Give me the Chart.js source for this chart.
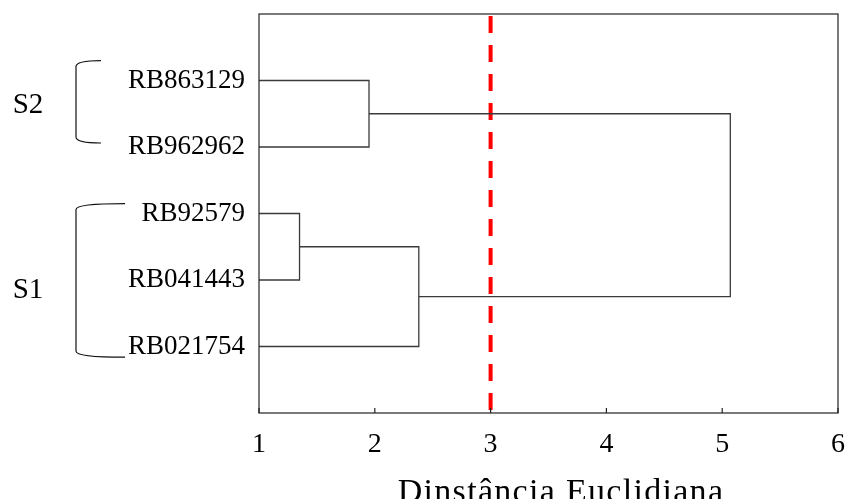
<!DOCTYPE html>
<html>
<head>
<meta charset="utf-8">
<script src="https://cdn.jsdelivr.net/npm/chart.js@4"></script>
<style>
  html, body { margin: 0; padding: 0; background: #fff; }
  #wrap { width: 848px; height: 499px; }
</style>
</head>
<body>
<div id="wrap"><canvas id="dendro"></canvas></div>
<script>
// leaves, top to bottom
const leaves = ['RB863129', 'RB962962', 'RB92579', 'RB041443', 'RB021754'];
// merges: node ids 0-4 are leaves, 5+ are the clusters built in order
const mergeA = [0, 2, 6, 5];
const mergeB = [1, 3, 4, 7];
const mergeDist = [1.95, 1.35, 2.38, 5.07];
const cutLine = 3;
const xTicks = [1, 2, 3, 4, 5, 6];
const xTitle = 'Dinstância Euclidiana';
// groups (brackets on the left)
const groupNames = ['S2', 'S1'];
const groupFrom = [0.70, 2.85];
const groupTo = [1.94, 5.16];
const groupLabelAt = [1.37, 4.15];

const serif = "'Liberation Serif', 'Times New Roman', serif";

// ✅ Build the link segments
const nodeX = leaves.map(() => 1);
const nodeY = leaves.map((_, i) => i + 1);
const links = [];
mergeDist.forEach((d, i) => {
  const a = mergeA[i], b = mergeB[i];
  links.push({
    data: [
      { x: nodeX[a], y: nodeY[a] },
      { x: d, y: nodeY[a] },
      { x: d, y: nodeY[b] },
      { x: nodeX[b], y: nodeY[b] }
    ],
    showLine: true,
    borderColor: '#3a3a3a',
    borderWidth: 1.3,
    pointRadius: 0,
    tension: 0
  });
  nodeX.push(d);
  nodeY.push((nodeY[a] + nodeY[b]) / 2);
});

links.push({
  data: [{ x: cutLine, y: 0.03 }, { x: cutLine, y: 6 }],
  showLine: true,
  borderColor: '#ff0000',
  borderWidth: 4,
  borderDash: [17, 12],
  pointRadius: 0
});

// ✅ Frame, inner ticks, brackets and axis title
const extras = {
  id: 'extras',
  afterDraw(chart) {
    const { ctx, chartArea: a, scales } = chart;
    ctx.save();
    ctx.strokeStyle = '#222';
    ctx.lineWidth = 1.2;
    ctx.strokeRect(a.left, a.top, a.right - a.left, a.bottom - a.top);

    xTicks.forEach(t => {
      const px = scales.x.getPixelForValue(t);
      ctx.beginPath();
      ctx.moveTo(px, a.bottom);
      ctx.lineTo(px, a.bottom - 5);
      ctx.stroke();
    });

    ctx.strokeStyle = '#111';
    groupNames.forEach((name, i) => {
      const top = scales.y.getPixelForValue(groupFrom[i]);
      const bot = scales.y.getPixelForValue(groupTo[i]);
      const bx = 76;
      const ex = i === 0 ? 101 : 125;
      ctx.beginPath();
      ctx.moveTo(ex, top);
      ctx.quadraticCurveTo(bx, top, bx, top + 6);
      ctx.lineTo(bx, bot - 6);
      ctx.quadraticCurveTo(bx, bot, ex, bot);
      ctx.stroke();

      ctx.fillStyle = '#000';
      ctx.font = '29px ' + serif;
      ctx.textAlign = 'center';
      ctx.textBaseline = 'middle';
      ctx.fillText(name, 28, scales.y.getPixelForValue(groupLabelAt[i]));
    });

    // axis title
    ctx.font = '34px ' + serif;
    ctx.letterSpacing = '1.3px';
    ctx.textAlign = 'center';
    ctx.textBaseline = 'alphabetic';
    ctx.fillText(xTitle, 561, 502);
    ctx.restore();
  }
};

new Chart(document.getElementById('dendro'), {
  type: 'scatter',
  data: { datasets: links },
  options: {
    responsive: true,
    maintainAspectRatio: false,
    animation: false,
    layout: { padding: { top: 14, right: 10, left: 0, bottom: 0 } },
    plugins: { legend: { display: false }, tooltip: { enabled: false } },
    scales: {
      x: {
        type: 'linear',
        min: 1,
        max: 6,
        afterBuildTicks: s => { s.ticks = xTicks.map(v => ({ value: v })); },
        afterFit: s => { s.height = 86; s.paddingLeft = 0; s.paddingRight = 0; },
        grid: { display: false, drawTicks: false },
        border: { display: false },
        ticks: { color: '#000', font: { family: serif, size: 28 }, padding: 15, maxRotation: 0 }
      },
      y: {
        type: 'linear',
        min: 0,
        max: 6,
        reverse: true,
        afterBuildTicks: s => { s.ticks = leaves.map((_, i) => ({ value: i + 1 })); },
        afterFit: s => { s.width = 259; s.paddingTop = 0; s.paddingBottom = 0; },
        grid: { display: false, drawTicks: false },
        border: { display: false },
        ticks: {
          color: '#000',
          font: { family: serif, size: 27 },
          padding: 14,
          callback: v => leaves[v - 1] || ''
        }
      }
    }
  },
  plugins: [extras]
});
</script>
</body>
</html>
